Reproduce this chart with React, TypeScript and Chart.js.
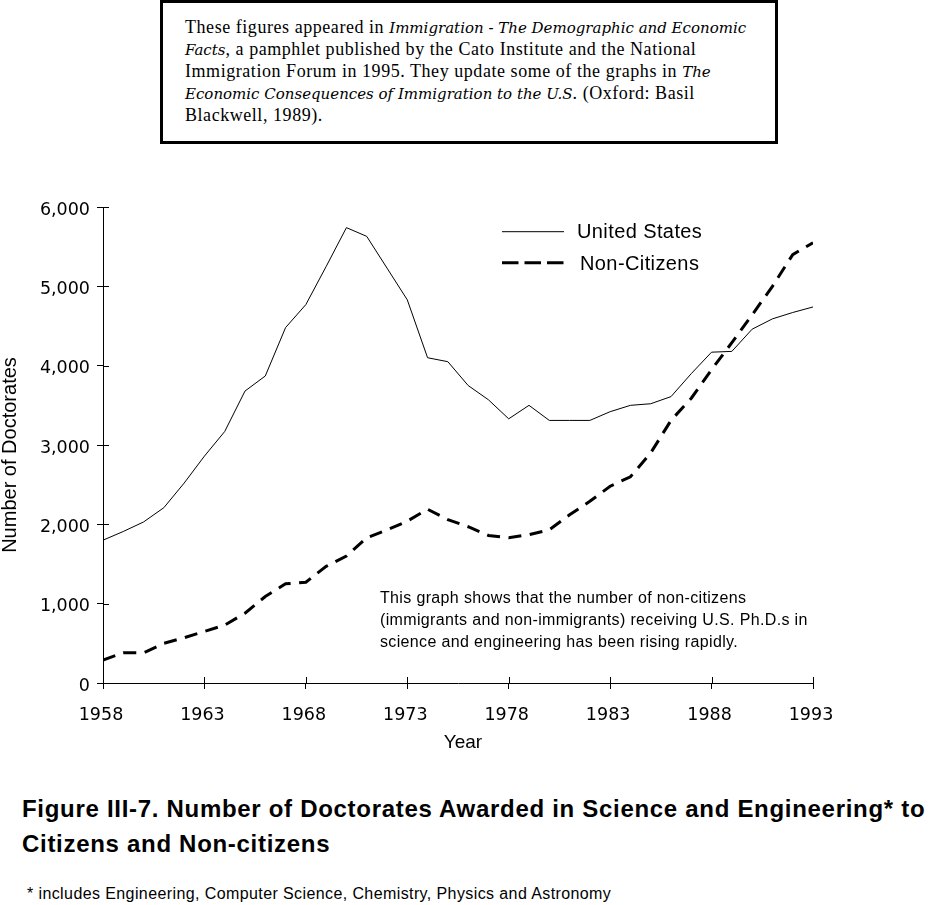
import React, { useEffect, useRef } from 'react';
import { Chart, registerables } from 'chart.js';

Chart.register(...registerables);

// ---- data ----
const years = [
  1958, 1959, 1960, 1961, 1962, 1963, 1964, 1965, 1966, 1967, 1968, 1969,
  1970, 1971, 1972, 1973, 1974, 1975, 1976, 1977, 1978, 1979, 1980, 1981,
  1982, 1983, 1984, 1985, 1986, 1987, 1988, 1989, 1990, 1991, 1992, 1993,
];
const unitedStates = [
  1800, 1910, 2030, 2210, 2520, 2860, 3170, 3680, 3870, 4480, 4770, 5250,
  5740, 5630, 5230, 4830, 4100, 4050, 3750, 3570, 3330, 3500, 3310, 3310,
  3310, 3420, 3500, 3520, 3610, 3900, 4170, 4180, 4460, 4590, 4670, 4740,
];
const nonCitizens = [
  290, 380, 380, 500, 570, 650, 730, 880, 1090, 1250, 1270, 1470,
  1600, 1830, 1930, 2040, 2190, 2060, 1970, 1860, 1830, 1870, 1930, 2120,
  2290, 2480, 2600, 2900, 3310, 3590, 3950, 4290, 4640, 5000, 5400, 5550,
];
const seriesLabels = ['United States', 'Non-Citizens'];
const xTickYears = [1958, 1963, 1968, 1973, 1978, 1983, 1988, 1993];
const yTickValues = [0, 1000, 2000, 3000, 4000, 5000, 6000];

const TICK_FONT = '"DejaVu Sans", sans-serif';

const innerTicksPlugin = {
  id: 'innerTicks',
  afterDraw(chart: any) {
    const { ctx, chartArea, scales } = chart;
    ctx.save();
    ctx.strokeStyle = '#000';
    ctx.lineWidth = 1;
    const xs = scales.x;
    xs.ticks.forEach((_t: any, i: number) => {
      const px = Math.round(xs.getPixelForTick(i)) + 0.5;
      ctx.beginPath();
      ctx.moveTo(px, chartArea.bottom);
      ctx.lineTo(px, chartArea.bottom - 6);
      ctx.stroke();
    });
    const ys = scales.y;
    ys.ticks.forEach((_t: any, i: number) => {
      const py = Math.round(ys.getPixelForTick(i)) + 0.5;
      ctx.beginPath();
      ctx.moveTo(chartArea.left, py);
      ctx.lineTo(chartArea.left + 6, py);
      ctx.stroke();
    });
    ctx.restore();
  },
};

const legendRows = [
  { lineY: 51.7, textX: 577, textY: 52, dash: [] as number[] },
  { lineY: 82.7, textX: 580, textY: 84, dash: [16.5, 6] },
];

const insideLegendPlugin = {
  id: 'insideLegend',
  afterDraw(chart: any) {
    const { ctx } = chart;
    chart.data.datasets.forEach((ds: any, i: number) => {
      const row = legendRows[i];
      ctx.save();
      ctx.strokeStyle = ds.borderColor;
      ctx.lineWidth = ds.borderWidth;
      ctx.setLineDash(row.dash);
      ctx.beginPath();
      ctx.moveTo(502, row.lineY);
      ctx.lineTo(564, row.lineY);
      ctx.stroke();
      ctx.setLineDash([]);
      ctx.font = '20px "Liberation Sans", Arial, sans-serif';
      try { (ctx as any).letterSpacing = '0.4px'; } catch (e) {}
      ctx.fillStyle = '#000';
      ctx.textBaseline = 'middle';
      ctx.textAlign = 'left';
      ctx.fillText(ds.label, row.textX, row.textY);
      ctx.restore();
    });
  },
};

function DoctoratesChart() {
  const ref = useRef<HTMLCanvasElement | null>(null);
  useEffect(() => {
    if (!ref.current) return;
    const chart = new Chart(ref.current, {
      type: 'line',
      data: {
        datasets: [
          {
            label: seriesLabels[0],
            data: years.map((y, i) => ({ x: y, y: unitedStates[i] })),
            borderColor: '#000',
            borderWidth: 1,
            pointRadius: 0,
            tension: 0,
            fill: false,
          },
          {
            label: seriesLabels[1],
            data: years.map((y, i) => ({ x: y, y: nonCitizens[i] })),
            borderColor: '#000',
            borderWidth: 3,
            borderDash: [13, 8.5],
            pointRadius: 0,
            tension: 0,
            fill: false,
          },
        ],
      },
      options: {
        animation: false,
        responsive: false,
        devicePixelRatio: 1,
        layout: { padding: { left: 0, right: 117, top: 27, bottom: 0 } },
        plugins: {
          legend: { display: false },
          tooltip: { enabled: false },
        },
        events: [],
        scales: {
          x: {
            type: 'linear',
            min: xTickYears[0],
            max: xTickYears[xTickYears.length - 1],
            afterFit: (s: any) => { s.height = 87; },
            afterBuildTicks: (s: any) => { s.ticks = xTickYears.map((v) => ({ value: v })); },
            ticks: {
              color: '#000',
              font: { family: TICK_FONT, size: 17.5 },
              padding: 16,
              labelOffset: -2,
              maxRotation: 0,
              autoSkip: false,
              callback: (v: any) => String(v),
            },
            grid: { display: true, drawOnChartArea: false, drawTicks: true, tickLength: 6, color: '#000', lineWidth: 1 },
            border: { display: true, color: '#000', width: 1 },
          },
          y: {
            type: 'linear',
            min: yTickValues[0],
            max: yTickValues[yTickValues.length - 1],
            afterFit: (s: any) => { s.width = 103; },
            afterBuildTicks: (s: any) => { s.ticks = yTickValues.map((v) => ({ value: v })); },
            ticks: {
              color: '#000',
              font: { family: TICK_FONT, size: 17.5 },
              padding: 7,
              labelOffset: 3,
              autoSkip: false,
              callback: (v: any) => Number(v).toLocaleString('en-US'),
            },
            grid: { display: true, drawOnChartArea: false, drawTicks: true, tickLength: 6, color: '#000', lineWidth: 1 },
            border: { display: true, color: '#000', width: 1 },
          },
        },
      },
      plugins: [innerTicksPlugin, insideLegendPlugin],
    });
    return () => chart.destroy();
  }, []);
  return (
    <canvas
      ref={ref}
      width={930}
      height={590}
      style={{ position: 'absolute', left: 0, top: 180, width: 930, height: 590 }}
    />
  );
}

const serif = '"Liberation Serif", "Times New Roman", serif';
const italicSerif = '"DejaVu Serif", serif';
const sans = '"Liberation Sans", Arial, sans-serif';

const lineStyle: React.CSSProperties = { height: 22, lineHeight: '22px', whiteSpace: 'nowrap' };
const it: React.CSSProperties = { fontFamily: italicSerif, fontStyle: 'italic', fontSize: 15, letterSpacing: 0 };

export default function App() {
  useEffect(() => {
    document.body.style.margin = '0';
  }, []);
  return (
    <div style={{ position: 'absolute', left: 0, top: 0, width: 930, height: 905, background: '#fff', color: '#000', overflow: 'hidden' }}>
      <div
        style={{
          position: 'absolute', left: 160, top: 0, width: 618, height: 144,
          boxSizing: 'border-box', border: '3px solid #000',
        }}
      >
        <div style={{ position: 'absolute', left: 22, top: 13, fontFamily: serif, fontSize: 18, letterSpacing: 0.55 }}>
          <div style={lineStyle}>These figures appeared in <span style={it}>Immigration - The Demographic and Economic</span></div>
          <div style={lineStyle}><span style={it}>Facts</span>, a pamphlet published by the Cato Institute and the National</div>
          <div style={lineStyle}>Immigration Forum in 1995. They update some of the graphs in <span style={it}>The</span></div>
          <div style={lineStyle}><span style={it}>Economic Consequences of Immigration to the U.S</span>. (Oxford: Basil</div>
          <div style={lineStyle}>Blackwell, 1989).</div>
        </div>
      </div>

      <DoctoratesChart />

      <div
        style={{
          position: 'absolute', left: 9 - 150, top: 455 - 10, width: 300, height: 20,
          lineHeight: '20px', textAlign: 'center', fontFamily: sans, fontSize: 20,
          transform: 'rotate(-90deg)', transformOrigin: '50% 50%', whiteSpace: 'nowrap',
        }}
      >
        Number of Doctorates
      </div>

      <div
        style={{
          position: 'absolute', left: 463 - 50, top: 742 - 11, width: 100, lineHeight: '22px',
          textAlign: 'center', fontFamily: sans, fontSize: 19,
        }}
      >
        Year
      </div>

      <div
        style={{
          position: 'absolute', left: 380, top: 586.5, lineHeight: '22px', fontFamily: sans,
          fontSize: 16, letterSpacing: 0.35, whiteSpace: 'nowrap',
        }}
      >
        This graph shows that the number of non-citizens
        <br />
        (immigrants and non-immigrants) receiving U.S. Ph.D.s in
        <br />
        science and engineering has been rising rapidly.
      </div>

      <div
        style={{
          position: 'absolute', left: 22, top: 790.5, lineHeight: '35px', fontFamily: sans,
          fontWeight: 'bold', fontSize: 24, letterSpacing: 0.7, whiteSpace: 'nowrap',
        }}
      >
        Figure III-7. Number of Doctorates Awarded in Science and Engineering* to
        <br />
        Citizens and Non-citizens
      </div>

      <div
        style={{
          position: 'absolute', left: 27, top: 883, lineHeight: '22px', fontFamily: sans,
          fontSize: 16, letterSpacing: 0.4, whiteSpace: 'nowrap',
        }}
      >
        * includes Engineering, Computer Science, Chemistry, Physics and Astronomy
      </div>
    </div>
  );
}
